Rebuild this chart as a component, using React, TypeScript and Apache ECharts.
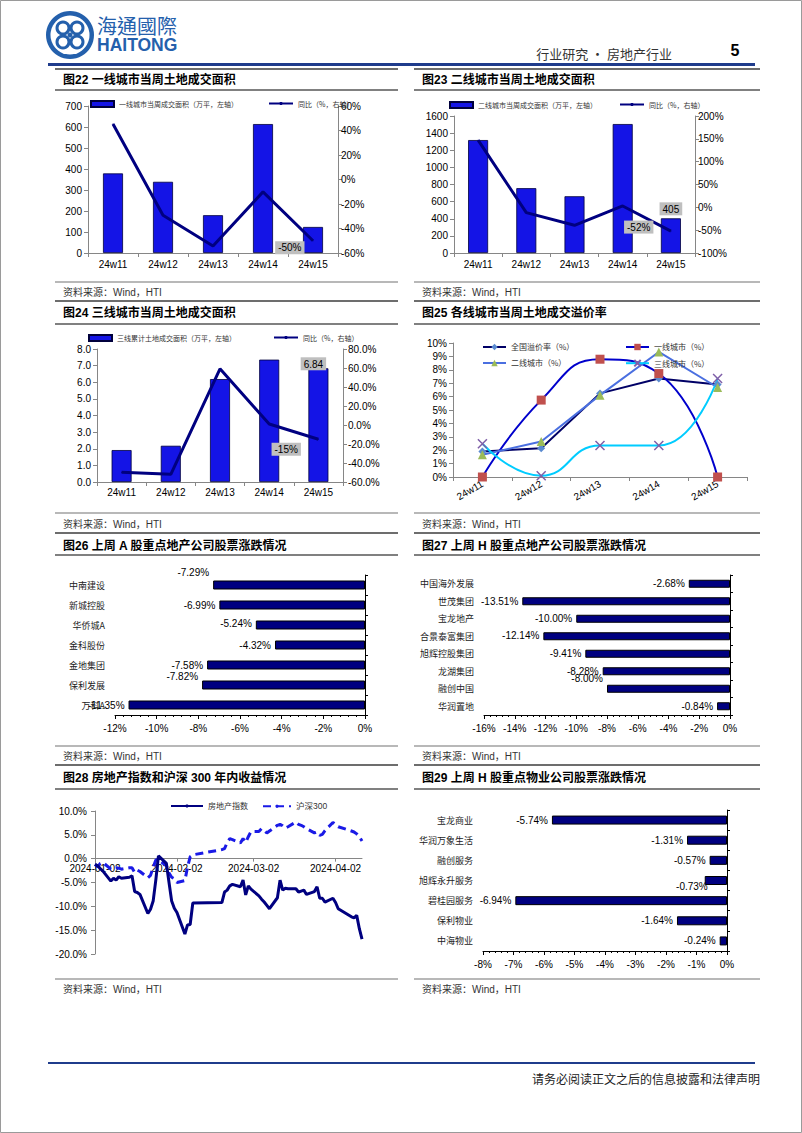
import React, { useEffect, useRef } from 'react';
import * as echarts from 'echarts';

// ---------------- data ----------------
const weeks = ['24w11', '24w12', '24w13', '24w14', '24w15'];
const tier1Area = [379, 339, 180, 614, 124];
const tier1Yoy = [45.3, -29.2, -54.3, -10.1, -50];
const tier2Area = [1319, 757, 663, 1506, 405];
const tier2Yoy = [147, -11.5, -39.3, 3.0, -52];
const tier3Area = [1.92, 2.18, 6.19, 7.36, 6.84];
const tier3Yoy = [-49.8, -51.9, 59.2, 1.0, -15];

const premiumNational = [1.9, 2.15, 6.24, 7.35, 6.9];
const premiumTier1 = [0, 5.74, 8.79, 7.72, 0];
const premiumTier2 = [1.66, 2.65, 6.11, 9.33, 6.68];
const premiumTier3 = [2.48, 0.1, 2.35, 2.35, 7.35];

const aShareNames = ['中南建设', '新城控股', '华侨城A', '金科股份', '金地集团', '保利发展', '万科A'];
const aShareChg = [-7.29, -6.99, -5.24, -4.32, -7.58, -7.82, -11.35];

const hShareNames = ['中国海外发展', '世茂集团', '宝龙地产', '合景泰富集团', '旭辉控股集团', '龙湖集团', '融创中国', '华润置地'];
const hShareChg = [-2.68, -13.51, -10.0, -12.14, -9.41, -8.28, -8.0, -0.84];

const hPropNames = ['宝龙商业', '华润万象生活', '融创服务', '旭辉永升服务', '碧桂园服务', '保利物业', '中海物业'];
const hPropChg = [-5.74, -1.31, -0.57, -0.73, -6.94, -1.64, -0.24];

const tradeDates = [
  '2024-01-02', '2024-01-03', '2024-01-04', '2024-01-05', '2024-01-08', '2024-01-09', '2024-01-10', '2024-01-11',
  '2024-01-12', '2024-01-15', '2024-01-16', '2024-01-17', '2024-01-18', '2024-01-19', '2024-01-22', '2024-01-23',
  '2024-01-24', '2024-01-25', '2024-01-26', '2024-01-29', '2024-01-30', '2024-01-31',
  '2024-02-01', '2024-02-02', '2024-02-05', '2024-02-06', '2024-02-07', '2024-02-08', '2024-02-19', '2024-02-20',
  '2024-02-21', '2024-02-22', '2024-02-23', '2024-02-26', '2024-02-27', '2024-02-28', '2024-02-29',
  '2024-03-01', '2024-03-04', '2024-03-05', '2024-03-06', '2024-03-07', '2024-03-08', '2024-03-11', '2024-03-12',
  '2024-03-13', '2024-03-14', '2024-03-15', '2024-03-18', '2024-03-19', '2024-03-20', '2024-03-21', '2024-03-22',
  '2024-03-25', '2024-03-26', '2024-03-27', '2024-03-28', '2024-03-29',
  '2024-04-01', '2024-04-02', '2024-04-03', '2024-04-08', '2024-04-09', '2024-04-10', '2024-04-11', '2024-04-12',
];
const realEstateRet = [
  -1.2, -1.5, -2.1, -2.6, -4.7, -4.1, -4.5, -3.8, -4.1, -3.9, -3.6, -6.9, -7.1, -7.5, -11.5, -10.6, -8.9, -4.5, 0.6,
  -1.0, -5.0, -8.9,
  -10.4, -11.3, -15.8, -13.9, -13.8, -9.3, -9.2, -7.0, -6.6, -5.7, -5.4, -5.9, -4.5, -7.6, -5.7,
  -6.4, -7.8, -8.5, -9.1, -9.8, -10.5, -8.2, -4.5, -6.6, -6.2, -6.3, -6.3, -7.0, -6.8, -6.6, -7.5, -6.9, -5.9, -8.3,
  -8.3, -9.1,
  -8.3, -9.2, -10.5, -12.2, -12.4, -11.9, -14.7, -16.9,
];
const csi300Ret = [
  -1.2, -1.7, -1.0, -0.8, -2.2, -2.0, -1.9, -2.0, -2.2, -1.9, -1.9, -2.9, -2.4, -2.7, -4.0, -3.5, -1.8, -0.3, -0.2,
  -1.5, -3.0, -3.9,
  -4.2, -5.0, -4.6, -1.8, 0.4, 0.8, 1.9, 2.1, 3.4, 4.2, 4.0, 3.3, 4.2, 3.4, 4.6,
  5.7, 5.7, 6.3, 5.9, 5.4, 5.8, 7.0, 7.2, 6.9, 6.4, 6.7, 7.7, 7.2, 7.0, 6.7, 6.3, 5.4, 5.6, 4.9, 5.1, 5.9,
  7.6, 7.1, 6.7, 5.8, 5.6, 5.2, 4.6, 3.7,
];
const dateTicks = ['2024-01-02', '2024-02-02', '2024-03-02', '2024-04-02'];
const dateRange = ['2024-01-02', '2024-04-12'];

// ---------------- styling ----------------
const EN = '"Liberation Sans", Arial, "Noto Sans CJK SC", sans-serif';
const CN = '"Noto Sans CJK SC", sans-serif';
const AX = '#868686';
const NAVY = '#000080';
const BAR = '#1414E6';
const LOGO = '#2460AC';
const tick = { fontSize: 10, color: '#000', fontFamily: EN };
const grayBox = { backgroundColor: '#BFBFBF', padding: [2, 3, 1, 3], color: '#000', fontSize: 10, fontFamily: EN };

const toTs = (s: string) => {
  const [y, m, d] = s.split('-').map(Number);
  return Date.UTC(y, m - 1, d);
};
const pad = (n: number) => (n < 10 ? '0' + n : '' + n);
const fmtDate = (v: number) => {
  const d = new Date(v);
  return `${d.getUTCFullYear()}-${pad(d.getUTCMonth() + 1)}-${pad(d.getUTCDate())}`;
};
const plain = (v: number) => String(v);

function valAxis(gridIndex: number, min: number, max: number, interval: number, position: string, fmt: any, margin = 6) {
  return {
    type: 'value', gridIndex, min, max, interval, position,
    axisLine: { show: true, onZero: false, lineStyle: { color: AX } },
    axisTick: { show: true, length: 4, lineStyle: { color: AX } },
    axisLabel: { ...tick, margin, formatter: fmt },
    splitLine: { show: false },
  };
}
function weekAxis(gridIndex: number, extra: any = {}) {
  return {
    type: 'category', gridIndex, data: weeks, boundaryGap: true,
    axisLine: { show: true, onZero: false, lineStyle: { color: AX } },
    axisTick: { show: true, length: 4, alignWithLabel: false, lineStyle: { color: AX } },
    axisLabel: { ...tick, margin: 6, ...extra },
    splitLine: { show: false },
  };
}
function pctAxis(gridIndex: number, min: number, max: number, interval: number) {
  return {
    type: 'value', gridIndex, min, max, interval, position: 'bottom',
    axisLine: { show: true, onZero: false, lineStyle: { color: '#000' } },
    axisTick: { show: true, length: 4, lineStyle: { color: '#000' } },
    minorTick: { show: true, splitNumber: 5, length: 2, lineStyle: { color: '#000' } },
    axisLabel: { ...tick, margin: 8, formatter: '{value}%' },
    splitLine: { show: false },
    minorSplitLine: { show: false },
  };
}
function nameAxis(gridIndex: number, names: string[]) {
  return {
    type: 'category', gridIndex, data: names, inverse: true, position: 'left',
    axisLine: { show: false, onZero: false }, axisTick: { show: false },
    axisLabel: { fontSize: 9, color: '#222', fontFamily: CN, margin: 10 },
    splitLine: { show: false },
  };
}
function edgeAxis(gridIndex: number, names: string[]) {
  return {
    type: 'category', gridIndex, data: names, inverse: true, position: 'right',
    axisLine: { show: true, onZero: false, lineStyle: { color: '#000' } },
    axisTick: { show: true, length: 3, lineStyle: { color: '#000' } },
    axisLabel: { show: false },
    splitLine: { show: false },
  };
}
function areaBars(name: string, values: number[], xi: number, yi: number, labelIdx: number, labelOpt: any, fmt: (v: number) => string) {
  return {
    type: 'bar', name, xAxisIndex: xi, yAxisIndex: yi, barWidth: 20,
    itemStyle: { color: BAR, borderColor: '#00003C', borderWidth: 0.8 },
    data: values.map((v, i) =>
      i === labelIdx ? { value: v, label: { show: true, ...grayBox, ...labelOpt, formatter: () => fmt(v) } } : v,
    ),
  };
}
function yoyLine(values: number[], xi: number, yi: number, labelIdx: number, labelOpt: any) {
  return {
    type: 'line', name: '同比（%，右轴）', xAxisIndex: xi, yAxisIndex: yi,
    symbol: 'circle', symbolSize: 1, showSymbol: true,
    lineStyle: { color: NAVY, width: 3 }, itemStyle: { color: NAVY },
    data: values.map((v, i) =>
      i === labelIdx ? { value: v, label: { show: true, ...grayBox, ...labelOpt, formatter: () => Math.round(v) + '%' } } : v,
    ),
    z: 3,
  };
}
function changeBars(name: string, values: number[], xi: number, yi: number, width: number, nudges: any[]) {
  return {
    type: 'bar', name, xAxisIndex: xi, yAxisIndex: yi, barWidth: width,
    itemStyle: { color: NAVY, borderColor: '#000', borderWidth: 1 },
    label: {
      show: true, position: 'left', distance: 4, fontSize: 10, color: '#000', fontFamily: EN,
      formatter: (p: any) => Number(p.value).toFixed(2) + '%',
    },
    data: values.map((v, i) => (nudges[i] ? { value: v, label: { offset: nudges[i] } } : v)),
  };
}
function lg(left: number, top: number, name: string, extra: any = {}) {
  return {
    left, top, data: [name], selectedMode: false, padding: 0, itemGap: 4,
    textStyle: { fontSize: 7, color: '#333', fontFamily: CN },
    ...extra,
  };
}

// graphic helpers
const T = (x: number, y: number, text: string, st: any = {}) => ({
  type: 'text', x, y,
  style: { text, fontSize: 10, fill: '#000', fontFamily: EN, verticalAlign: 'middle', align: 'left', ...st },
});
const L = (x1: number, y1: number, x2: number, y2: number, stroke: string, lineWidth: number) => ({
  type: 'line', shape: { x1, y1, x2, y2 }, style: { stroke, lineWidth },
});
function block(x1: number, x2: number, ys: number[], title: string) {
  const [yTop, yTitle, yUnder, ySrcLine, ySrc] = ys;
  return [
    L(x1, yTop, x2, yTop, '#6d6d6d', 2),
    T(x1 + 8, yTitle, title, { fontSize: 12, fontWeight: 'bold' }),
    L(x1, yUnder, x2, yUnder, '#808080', 2),
    L(x1, ySrcLine, x2, ySrcLine, '#a0a0a0', 1.5),
    T(x1 + 8, ySrc, '资料来源：Wind，HTI', { fontSize: 10, fill: '#333' }),
  ];
}

function buildOption() {
  const rows = [
    [69, 80, 90, 282, 292],
    [301, 313, 324, 513, 524],
    [533, 546, 555, 746, 756],
    [765, 778, 789, 979, 989],
  ];
  const graphics: any[] = [
    { type: 'rect', shape: { x: 0.5, y: 0.5, width: 801, height: 1132 }, style: { fill: 'none', stroke: '#9a9a9a', lineWidth: 1 } },
    { type: 'circle', shape: { cx: 70, cy: 35, r: 24 }, style: { fill: LOGO } },
    { type: 'circle', shape: { cx: 70, cy: 35, r: 19.5 }, style: { fill: '#fff' } },
    ...[[-7, -7], [7, -7], [-7, 7], [7, 7]].map(([dx, dy]) => ({
      type: 'circle', shape: { cx: 70 + dx, cy: 35 + dy, r: 6 }, style: { fill: 'none', stroke: LOGO, lineWidth: 3 },
    })),
    { type: 'circle', shape: { cx: 70, cy: 35, r: 2.5 }, style: { fill: LOGO } },
    T(97, 25, '海通國際', { fontSize: 20, fill: LOGO, fontFamily: '"Noto Sans CJK TC", sans-serif' }),
    T(97, 45, 'HAITONG', { fontSize: 17.5, fill: LOGO, fontWeight: 'bold' }),
    T(672, 53, '行业研究 · 房地产行业', { fontSize: 13, fill: '#333', align: 'right', fontFamily: CN }),
    T(735, 50, '5', { fontSize: 16, fontWeight: 'bold', align: 'center' }),
    L(48, 64.5, 755, 64.5, '#1F3C8C', 3),
    ...block(55, 398, rows[0], '图22 一线城市当周土地成交面积'),
    ...block(414, 760, rows[0], '图23 二线城市当周土地成交面积'),
    ...block(55, 398, rows[1], '图24 三线城市当周土地成交面积'),
    ...block(414, 760, rows[1], '图25 各线城市当周土地成交溢价率'),
    ...block(55, 398, rows[2], '图26 上周 A 股重点地产公司股票涨跌情况'),
    ...block(414, 760, rows[2], '图27 上周 H 股重点地产公司股票涨跌情况'),
    ...block(55, 398, rows[3], '图28 房地产指数和沪深 300 年内收益情况'),
    ...block(414, 760, rows[3], '图29 上周 H 股重点物业公司股票涨跌情况'),
    L(48, 1063, 755, 1063, '#1F3C8C', 2),
    T(760, 1078, '请务必阅读正文之后的信息披露和法律声明', { fontSize: 12, fill: '#222', align: 'right', fontFamily: CN }),
  ];

  const grid = [
    { left: 88, top: 106, width: 250, height: 147 },
    { left: 454, top: 116, width: 241, height: 137 },
    { left: 97, top: 349, width: 246, height: 133 },
    { left: 453, top: 343, width: 294, height: 134 },
    { left: 115, top: 575, width: 250, height: 140 },
    { left: 484, top: 575, width: 246, height: 140 },
    { left: 95, top: 811, width: 267, height: 143 },
    { left: 483, top: 810, width: 244, height: 141 },
  ];
  // fig 28: move the date axis up from the grid bottom (-20%) to the 0% level
  const retMin = -20;
  const retMax = 10;
  const zeroShift = -(grid[6].height * (0 - retMin)) / (retMax - retMin);

  const tickTs = dateTicks.map(toTs);
  const xAxis = [
    weekAxis(0),
    weekAxis(1),
    weekAxis(2, { margin: 5 }),
    weekAxis(3, { rotate: 30, margin: 6 }),
    pctAxis(4, -12, 0, 2),
    pctAxis(5, -16, 0, 2),
    {
      type: 'value', gridIndex: 6, min: toTs(dateRange[0]), max: toTs(dateRange[1]),
      position: 'bottom', offset: zeroShift,
      axisLine: { show: true, onZero: false, lineStyle: { color: AX } },
      axisTick: { show: true, length: 3, customValues: tickTs, lineStyle: { color: AX } },
      axisLabel: { ...tick, margin: 5, customValues: tickTs, formatter: (v: number) => fmtDate(v), hideOverlap: false },
      splitLine: { show: false },
      z: 1,
    },
    pctAxis(7, -8, 0, 1),
  ];
  const yAxis = [
    valAxis(0, 0, 700, 100, 'left', plain),
    valAxis(0, -60, 60, 20, 'right', '{value}%', 3),
    valAxis(1, 0, 1600, 200, 'left', plain),
    valAxis(1, -100, 200, 50, 'right', '{value}%', 3),
    valAxis(2, 0, 8, 1, 'left', (v: number) => v.toFixed(1)),
    valAxis(2, -60, 80, 20, 'right', (v: number) => v.toFixed(1) + '%', 5),
    valAxis(3, 0, 10, 1, 'left', '{value}%'),
    nameAxis(4, aShareNames),
    edgeAxis(4, aShareNames),
    nameAxis(5, hShareNames),
    edgeAxis(5, hShareNames),
    valAxis(6, retMin, retMax, 5, 'left', (v: number) => v.toFixed(1) + '%', 8),
    nameAxis(7, hPropNames),
    edgeAxis(7, hPropNames),
  ];

  const n1 = '一线城市当周成交面积（万平，左轴）';
  const n2 = '二线城市当周成交面积（万平，左轴）';
  const n3 = '三线累计土地成交面积（万平，左轴）';
  const ny = '同比（%，右轴）';
  const p0 = '全国溢价率（%）';
  const p1 = '一线城市（%）';
  const p2 = '二线城市（%）';
  const p3 = '三线城市（%）';

  const series: any[] = [
    areaBars(n1, tier1Area, 0, 0, -1, {}, (v) => String(v)),
    yoyLine(tier1Yoy, 0, 1, 4, { position: 'left', distance: 8, offset: [0, 7] }),
    areaBars(n2, tier2Area, 1, 2, 4, { position: 'top', distance: 3 }, (v) => String(v)),
    yoyLine(tier2Yoy, 1, 3, 4, { position: 'left', distance: 17, offset: [0, -4] }),
    areaBars(n3, tier3Area, 2, 4, 4, { position: 'top', distance: 0, offset: [-5, 2] }, (v) => v.toFixed(2)),
    yoyLine(tier3Yoy, 2, 5, 4, { position: 'left', distance: 17, offset: [0, 10] }),
    {
      type: 'line', name: p0, xAxisIndex: 3, yAxisIndex: 6, data: premiumNational,
      symbol: 'diamond', symbolSize: 8, lineStyle: { color: '#000066', width: 2 }, itemStyle: { color: '#5B8BD0' },
    },
    {
      type: 'line', name: p1, xAxisIndex: 3, yAxisIndex: 6, data: premiumTier1, smooth: 0.5,
      symbol: 'rect', symbolSize: 9, lineStyle: { color: '#0000CC', width: 2 }, itemStyle: { color: '#C0504D' },
    },
    {
      type: 'line', name: p2, xAxisIndex: 3, yAxisIndex: 6, data: premiumTier2,
      symbol: 'triangle', symbolSize: 9, lineStyle: { color: '#4A6FE0', width: 2 }, itemStyle: { color: '#9BBB59' },
    },
    {
      type: 'line', name: p3, xAxisIndex: 3, yAxisIndex: 6, data: premiumTier3, smooth: 0.5,
      symbol: 'path://M0 0L10 10M10 0L0 10', symbolSize: 9, lineStyle: { color: '#00CCFF', width: 2 },
      itemStyle: { color: 'transparent', borderColor: '#7F5FA8', borderWidth: 1.5 },
    },
    changeBars('A股涨跌幅', aShareChg, 4, 7, 9, [[0, -13], 0, [0, -2], 0, 0, [0, -9], 0]),
    changeBars('H股地产涨跌幅', hShareChg, 5, 9, 8, [0, 0, 0, [0, -1], 0, 0, [0, -10], 0]),
    {
      type: 'line', name: '沪深300', xAxisIndex: 6, yAxisIndex: 11,
      data: tradeDates.map((d, i) => [toTs(d), csi300Ret[i]]), symbol: 'none',
      lineStyle: { color: '#1A1AE6', width: 3, type: [8, 5] }, itemStyle: { color: '#1A1AE6' },
    },
    {
      type: 'line', name: '房地产指数', xAxisIndex: 6, yAxisIndex: 11,
      data: tradeDates.map((d, i) => [toTs(d), realEstateRet[i]]), symbol: 'none',
      lineStyle: { color: NAVY, width: 3 }, itemStyle: { color: NAVY },
    },
    changeBars('H股物业涨跌幅', hPropChg, 7, 12, 9, [0, 0, 0, [7, 6], 0, 0, 0]),
  ];

  const lineLegendStyle = { fontSize: 8, color: '#333', fontFamily: CN };
  const legend = [
    lg(90, 100, n1, { itemWidth: 23, itemHeight: 6, icon: 'rect' }),
    lg(268, 100, ny, { itemWidth: 24, itemHeight: 4 }),
    lg(449, 101, n2, { itemWidth: 23, itemHeight: 6, icon: 'rect' }),
    lg(619, 101, ny, { itemWidth: 24, itemHeight: 4 }),
    lg(88, 334, n3, { itemWidth: 23, itemHeight: 6, icon: 'rect' }),
    lg(273, 334, ny, { itemWidth: 24, itemHeight: 4 }),
    lg(482, 343, p0, { itemWidth: 23, itemHeight: 8, textStyle: lineLegendStyle }),
    lg(625, 343, p1, { itemWidth: 23, itemHeight: 8, textStyle: lineLegendStyle }),
    lg(482, 359, p2, { itemWidth: 23, itemHeight: 8, textStyle: lineLegendStyle }),
    lg(625, 359, p3, { itemWidth: 23, itemHeight: 8, textStyle: lineLegendStyle }),
    lg(170, 802, '房地产指数', { itemWidth: 32, itemHeight: 4, textStyle: lineLegendStyle }),
    lg(262, 802, '沪深300', { itemWidth: 28, itemHeight: 4, textStyle: { fontSize: 8.5, color: '#333', fontFamily: EN } }),
  ];

  return {
    animation: false,
    backgroundColor: '#fff',
    textStyle: { fontFamily: EN },
    grid,
    xAxis,
    yAxis,
    series,
    legend,
    graphic: { elements: graphics },
  };
}

export default function App() {
  const ref = useRef<HTMLDivElement>(null);
  useEffect(() => {
    if (!ref.current) return;
    const chart = echarts.init(ref.current, null, { renderer: 'svg' });
    chart.setOption(buildOption() as any);
    return () => chart.dispose();
  }, []);
  return (
    <div
      ref={ref}
      style={{ position: 'absolute', left: 0, top: 0, width: 802, height: 1133, background: '#fff' }}
    />
  );
}
